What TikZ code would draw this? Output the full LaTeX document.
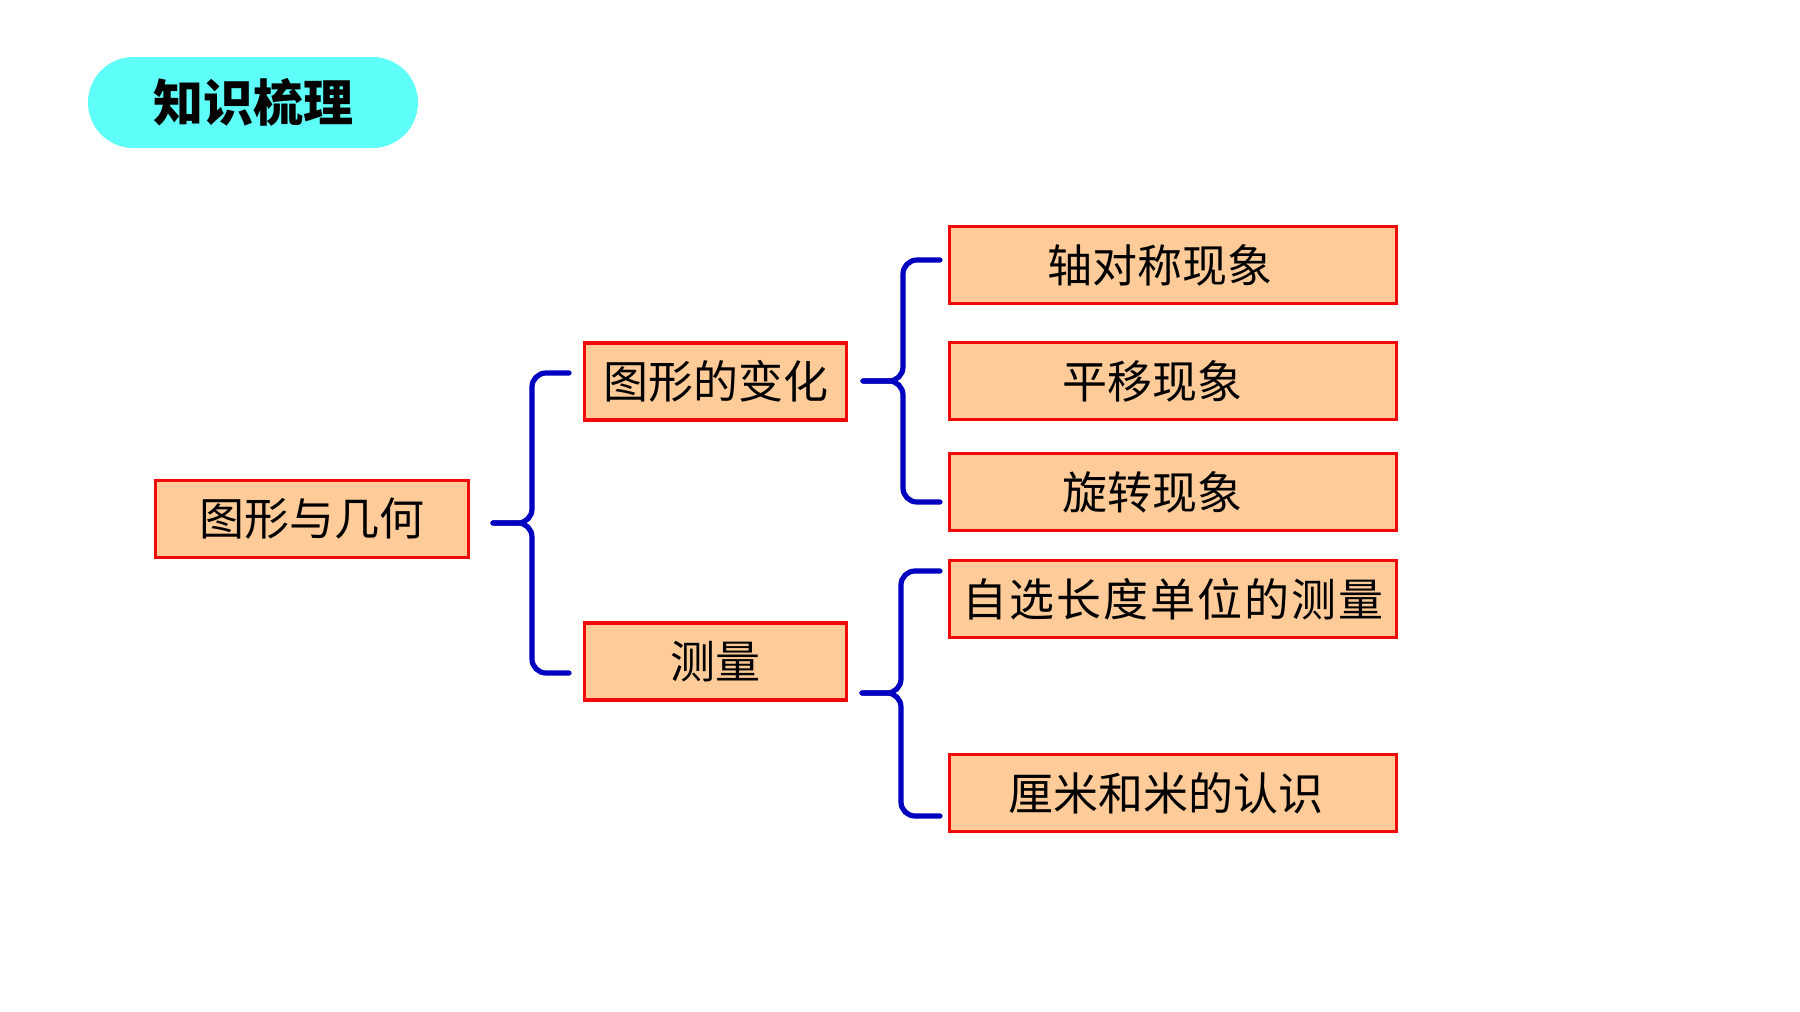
\documentclass[tikz,border=0pt]{standalone}
\usepackage{fontspec}
\setmainfont{Noto Sans CJK SC}
\definecolor{boxfill}{HTML}{FFCC99}
\definecolor{boxline}{HTML}{F00A0A}
\definecolor{bracecol}{HTML}{0000C0}
\definecolor{pillfill}{HTML}{5FFFF9}
\tikzset{
  topic/.style={draw=boxline, line width=1.7pt, fill=boxfill, minimum height=38.5pt,
    inner sep=0pt, font=\fontsize{22.5}{27}\selectfont},
  brace/.style={draw=bracecol, line width=2.6pt, rounded corners=7pt, line cap=round},
  pill/.style={fill=pillfill, rounded corners=22.75pt, minimum width=165pt,
    minimum height=45.5pt, font=\fontsize{25}{30}\selectfont\bfseries}
}
\begin{document}
\begin{tikzpicture}[x=0.5pt, y=-0.5pt]
      \useasboundingbox (0,0) rectangle (1800,1012);
      \node[pill] (title) at (253,102.5) {知识梳理};

      \node[topic, minimum width=156.5pt] (root) at (312,519) {图形与几何};
      \node[topic, minimum width=131pt] (change) at (715.5,381.5) {图形的变化};
      \node[topic, minimum width=131pt] (measure) at (715.5,661.5) {测量};

      \node[topic, minimum width=223.5pt] (axial) at (1173,265) {\hspace*{-13pt}轴对称现象};
      \node[topic, minimum width=223.5pt] (shift) at (1173,381) {\hspace*{-21pt}平移现象};
      \node[topic, minimum width=223.5pt] (rotate) at (1173,492) {\hspace*{-21pt}旋转现象};
      \node[topic, minimum width=223.5pt] (unit) at (1173,599) {\addfontfeature{LetterSpace=4.3}自选长度单位的测量};
      \node[topic, minimum width=223.5pt] (cm) at (1173,793) {\hspace*{-7pt}厘米和米的认识};

      % brace ends and tips
      \coordinate (b1tip) at (493,523);
      \coordinate (b1mid) at (532,523);
      \coordinate (b1top) at (569,373);
      \coordinate (b1bot) at (569,673);
      \coordinate (b2tip) at (863,381);
      \coordinate (b2mid) at (903,381);
      \coordinate (b2top) at (940,260);
      \coordinate (b2bot) at (940,502);
      \coordinate (b3tip) at (862,693);
      \coordinate (b3mid) at (901,693);
      \coordinate (b3top) at (940,571);
      \coordinate (b3bot) at (940,816);

      \draw[brace] (b1top) -| (b1mid) -- (b1tip);
      \draw[brace] (b1tip) -- (b1mid) |- (b1bot);
      \draw[brace] (b2top) -| (b2mid) -- (b2tip);
      \draw[brace] (b2tip) -- (b2mid) |- (b2bot);
      \draw[brace] (b3top) -| (b3mid) -- (b3tip);
      \draw[brace] (b3tip) -- (b3mid) |- (b3bot);
    \end{tikzpicture}
\end{document}
